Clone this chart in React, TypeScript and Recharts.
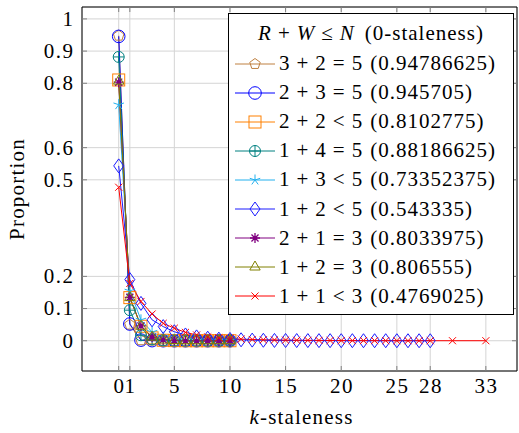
import React from "react";
import {
  LineChart,
  Line,
  XAxis,
  YAxis,
  CartesianGrid,
  ReferenceArea,
  Label,
} from "recharts";

// ─── Data ─────────────────────────────────────────────────────────────────────

const K_SHORT = [0, 1, 2, 3, 4, 5, 6, 7, 8, 9, 10];
const K_DIAMOND = [
  0, 1, 2, 3, 4, 5, 6, 7, 8, 9, 10, 11, 12, 13, 14, 15, 16, 17, 18, 19, 20, 21,
  22, 23, 24, 25, 26, 27, 28,
];
const K_RED = [
  0, 1, 2, 3, 4, 5, 6, 7, 8, 9, 10, 11, 12, 13, 14, 15, 16, 17, 18, 19, 20, 21,
  22, 23, 24, 25, 26, 27, 28, 30, 33,
];

const V_3_2 = [0.94786625, 0.05, 0.0015, 0.0005, 0.0001, 0, 0, 0, 0, 0, 0];
const V_2_3 = [0.945705, 0.052, 0.002, 0.0003, 0.0001, 0, 0, 0, 0, 0, 0];
const V_2_2 = [0.8102775, 0.134, 0.045, 0.009, 0.0015, 0.0004, 0.0001, 0, 0, 0, 0];
const V_1_4 = [0.88186625, 0.095, 0.017, 0.004, 0.001, 0.0005, 0.0002, 0.0001, 0, 0, 0];
const V_1_3 = [0.73352375, 0.155, 0.065, 0.027, 0.011, 0.005, 0.002, 0.001, 0.0005, 0.0002, 0.0001];
const V_1_2_5 = [
  0.543335, 0.19, 0.116, 0.065, 0.044, 0.028, 0.018, 0.012, 0.008, 0.005, 0.004,
  0.003, 0.002, 0.0015, 0.001, 0.0008, 0.0006, 0.0005, 0.0004, 0.0003, 0.0002,
  0.0002, 0.0001, 0.0001, 0.0001, 0.0001, 0, 0, 0,
];
const V_2_1 = [0.8033975, 0.135, 0.046, 0.011, 0.003, 0.001, 0.0003, 0.0001, 0, 0, 0];
const V_1_2_3 = [0.806555, 0.134, 0.045, 0.011, 0.002, 0.0008, 0.0002, 0.0001, 0, 0, 0];
const V_1_1 = [
  0.4769025, 0.178, 0.122, 0.083, 0.054, 0.039, 0.026, 0.018, 0.012, 0.009,
  0.007, 0.005, 0.004, 0.003, 0.0025, 0.002, 0.0016, 0.0013, 0.001, 0.0008,
  0.0006, 0.0005, 0.0004, 0.0003, 0.0002, 0.0002, 0.0001, 0.0001, 0.0001,
  0.0001, 0.0001,
];

const X_TICKS = [0, 1, 5, 10, 15, 20, 25, 28, 33];
const Y_TICKS = [0, 0.1, 0.2, 0.5, 0.6, 0.8, 0.9, 1];

// ─── Config ───────────────────────────────────────────────────────────────────

type Shape =
  | "pentagon"
  | "circle"
  | "square"
  | "oplus"
  | "star"
  | "diamond"
  | "asterisk"
  | "triangle"
  | "cross";

interface Series {
  r: number;
  w: number;
  rel: string;
  n: number;
  ks: number[];
  values: number[];
  color: string;
  shape: Shape;
}

const SERIES: Series[] = [
  { r: 3, w: 2, rel: "=", n: 5, ks: K_SHORT, values: V_3_2, color: "#bf8040", shape: "pentagon" },
  { r: 2, w: 3, rel: "=", n: 5, ks: K_SHORT, values: V_2_3, color: "#0000ff", shape: "circle" },
  { r: 2, w: 2, rel: "<", n: 5, ks: K_SHORT, values: V_2_2, color: "#ff8000", shape: "square" },
  { r: 1, w: 4, rel: "=", n: 5, ks: K_SHORT, values: V_1_4, color: "#008080", shape: "oplus" },
  { r: 1, w: 3, rel: "<", n: 5, ks: K_SHORT, values: V_1_3, color: "#22b0ee", shape: "star" },
  { r: 1, w: 2, rel: "<", n: 5, ks: K_DIAMOND, values: V_1_2_5, color: "#1a1aff", shape: "diamond" },
  { r: 2, w: 1, rel: "=", n: 3, ks: K_SHORT, values: V_2_1, color: "#800080", shape: "asterisk" },
  { r: 1, w: 2, rel: "=", n: 3, ks: K_SHORT, values: V_1_2_3, color: "#808000", shape: "triangle" },
  { r: 1, w: 1, rel: "<", n: 3, ks: K_RED, values: V_1_1, color: "#ff0000", shape: "cross" },
];

const W = 519;
const H = 433;
const MARGIN = { top: 7, right: 2, bottom: 0, left: 0 };
const X_DOMAIN: [number, number] = [-3.3, 35.8];
const Y_DOMAIN: [number, number] = [-0.094, 1.037];
const FONT = "Liberation Serif, serif";
const TICK_COLOR = "#808080";
const TICK_TEXT = { fontFamily: FONT, fontSize: 21, letterSpacing: 1.5 };
const LABEL_TEXT = { fontFamily: FONT, fontSize: 21, letterSpacing: 1.2 };

// ─── Markers ──────────────────────────────────────────────────────────────────

function Marker({ cx, cy, shape, color }: { cx: number; cy: number; shape: Shape; color: string }) {
  const common = { stroke: color, fill: "none", strokeWidth: 1 };
  const poly = (n: number, r: number, start = -90) =>
    Array.from({ length: n }, (_, i) => {
      const a = ((start + (360 / n) * i) * Math.PI) / 180;
      return `${cx + r * Math.cos(a)},${cy + r * Math.sin(a)}`;
    }).join(" ");
  const rays = (n: number, r: number, start = -90) =>
    Array.from({ length: n }, (_, i) => {
      const a = ((start + (360 / n) * i) * Math.PI) / 180;
      return `M${cx},${cy}L${cx + r * Math.cos(a)},${cy + r * Math.sin(a)}`;
    }).join("");

  switch (shape) {
    case "pentagon":
      return <polygon points={poly(5, 5.5)} {...common} />;
    case "circle":
      return <circle cx={cx} cy={cy} r={6.3} {...common} />;
    case "square":
      return <rect x={cx - 6} y={cy - 6} width={12} height={12} {...common} />;
    case "oplus":
      return (
        <g {...common}>
          <circle cx={cx} cy={cy} r={5.5} />
          <path d={`M${cx - 5.5},${cy}H${cx + 5.5}M${cx},${cy - 5.5}V${cy + 5.5}`} />
        </g>
      );
    case "star":
      return <path d={rays(5, 5.5)} {...common} />;
    case "diamond":
      return (
        <polygon
          points={`${cx},${cy - 7} ${cx + 5},${cy} ${cx},${cy + 7} ${cx - 5},${cy}`}
          {...common}
        />
      );
    case "asterisk":
      return (
        <g>
          <path d={rays(8, 5)} stroke={color} strokeWidth={1.3} />
          <circle cx={cx} cy={cy} r={2} fill={color} />
        </g>
      );
    case "triangle":
      return <polygon points={poly(3, 6)} {...common} />;
    case "cross":
      return <path d={rays(4, 5, 45)} {...common} />;
  }
}

// ─── Axis ticks ───────────────────────────────────────────────────────────────

function XTick({ x, y, payload }: any) {
  return (
    <g>
      <line x1={x} x2={x} y1={y} y2={y - 5} stroke={TICK_COLOR} />
      <line x1={x} x2={x} y1={MARGIN.top} y2={MARGIN.top + 5} stroke={TICK_COLOR} />
      <text x={x + 0.75} y={y + 22} textAnchor="middle" style={TICK_TEXT} fill="#000">
        {payload.value}
      </text>
    </g>
  );
}

function YTick({ x, y, payload }: any) {
  const right = W - MARGIN.right;
  return (
    <g>
      <line x1={x} x2={x + 5} y1={y} y2={y} stroke={TICK_COLOR} />
      <line x1={right} x2={right - 5} y1={y} y2={y} stroke={TICK_COLOR} />
      <text x={x - 7.5} y={y} dy="0.33em" textAnchor="end" style={TICK_TEXT} fill="#000">
        {payload.value}
      </text>
    </g>
  );
}

// ─── Legend ───────────────────────────────────────────────────────────────────

const Op = ({ c }: { c: string }) => <span style={{ margin: "0 6px" }}>{c}</span>;

function LegendBox() {
  return (
    <div
      style={{
        position: "absolute",
        left: 228,
        top: 13,
        width: 286,
        height: 302,
        border: "1px solid #000",
        background: "#fff",
        fontFamily: FONT,
        fontSize: 21,
        letterSpacing: 1,
        boxSizing: "border-box",
        paddingTop: 4,
      }}
    >
      <div style={{ height: 31, lineHeight: "31px", textAlign: "center", whiteSpace: "nowrap" }}>
        <i>R</i>
        <Op c="+" />
        <i>W</i>
        <Op c="≤" />
        <i>N</i>
        <span style={{ marginLeft: 10 }}>(0-staleness)</span>
      </div>
      {SERIES.map((s) => (
        <div
          key={`${s.r}${s.w}${s.n}`}
          style={{ height: 29.1, display: "flex", alignItems: "center", whiteSpace: "nowrap" }}
        >
          <svg width={40} height={20} style={{ marginLeft: 6, marginRight: 4, flexShrink: 0 }}>
            <line x1={0} x2={40} y1={10} y2={10} stroke={s.color} strokeWidth={1} />
            <Marker cx={20} cy={10} shape={s.shape} color={s.color} />
          </svg>
          <span>
            {s.r}
            <Op c="+" />
            {s.w}
            <Op c={s.rel} />
            {s.n}
            <span style={{ marginLeft: 7 }}>({s.values[0]})</span>
          </span>
        </div>
      ))}
    </div>
  );
}

// ─── Component ────────────────────────────────────────────────────────────────

export default function App() {
  return (
    <div
      style={{
        position: "absolute",
        left: 0,
        top: 0,
        width: W,
        height: H,
        background: "#fff",
        fontFamily: FONT,
      }}
    >
      <LineChart width={W} height={H} margin={MARGIN} style={{ fontFamily: FONT }}>
        <CartesianGrid stroke="#d4d4d4" />
        <XAxis
          type="number"
          dataKey="k"
          domain={X_DOMAIN}
          ticks={X_TICKS}
          interval={0}
          allowDataOverflow
          height={62}
          tickSize={0}
          tickMargin={0}
          tickLine={false}
          axisLine={false}
          tick={<XTick />}
        >
          <Label
            content={({ viewBox }: any) => (
              <text
                x={viewBox.x + viewBox.width / 2 + 2}
                y={viewBox.y + 53}
                textAnchor="middle"
                style={LABEL_TEXT}
                fill="#000"
              >
                <tspan fontStyle="italic">k</tspan>-staleness
              </text>
            )}
          />
        </XAxis>
        <YAxis
          type="number"
          domain={Y_DOMAIN}
          ticks={Y_TICKS}
          interval={0}
          allowDataOverflow
          width={82}
          tickSize={0}
          tickMargin={0}
          tickLine={false}
          axisLine={false}
          tick={<YTick />}
        >
          <Label
            content={({ viewBox }: any) => {
              const cx = 24;
              const cy = viewBox.y + viewBox.height / 2;
              return (
                <text
                  x={cx}
                  y={cy}
                  transform={`rotate(-90, ${cx}, ${cy})`}
                  textAnchor="middle"
                  style={LABEL_TEXT}
                  fill="#000"
                >
                  Proportion
                </text>
              );
            }}
          />
        </YAxis>
        {SERIES.map((s) => (
          <Line
            key={`${s.r}${s.w}${s.n}`}
            data={s.ks.map((k, i) => ({ k, v: s.values[i] }))}
            dataKey="v"
            type="linear"
            stroke={s.color}
            strokeWidth={1}
            isAnimationActive={false}
            dot={(p: any) => (
              <Marker key={`${s.shape}-${p.index}`} cx={p.cx} cy={p.cy} shape={s.shape} color={s.color} />
            )}
            activeDot={false}
          />
        ))}
        <ReferenceArea
          x1={X_DOMAIN[0]}
          x2={X_DOMAIN[1]}
          y1={Y_DOMAIN[0]}
          y2={Y_DOMAIN[1]}
          fill="none"
          fillOpacity={0}
          stroke="#000"
          strokeWidth={1}
          ifOverflow="visible"
        />
      </LineChart>
      <LegendBox />
    </div>
  );
}
